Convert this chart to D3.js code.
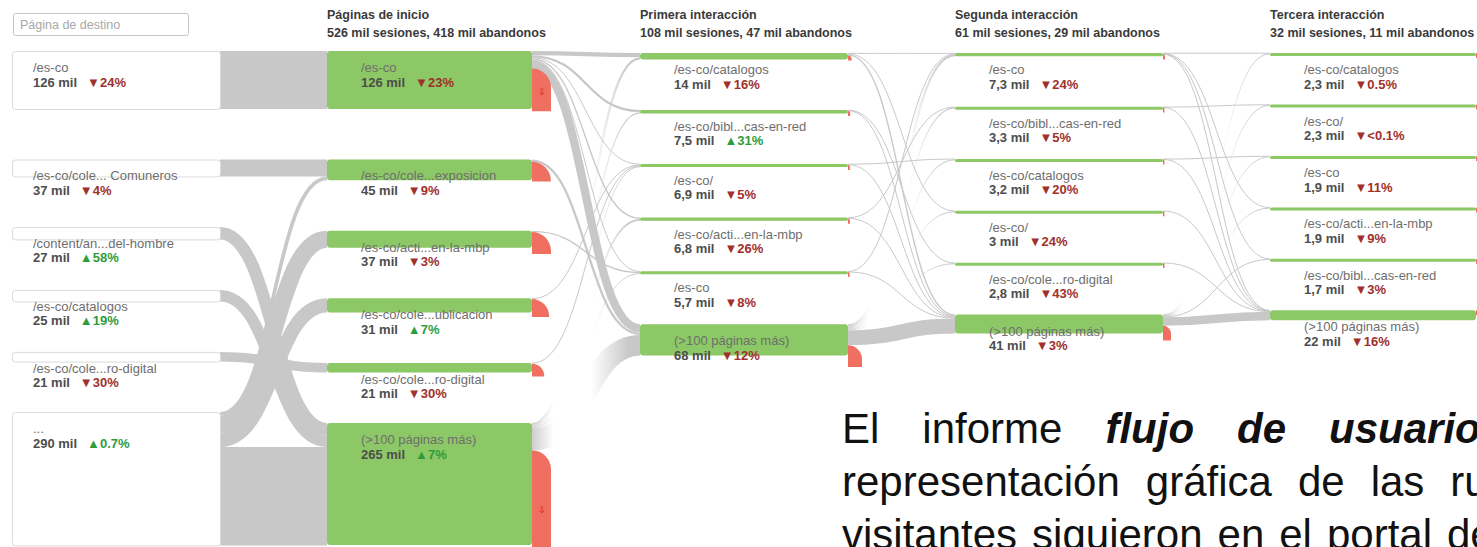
<!DOCTYPE html>
<html>
<head>
<meta charset="utf-8">
<script src="https://cdn.jsdelivr.net/npm/d3@7"></script>
<style>
  body { margin: 0; background: #fff; }
  svg { display: block; font-family: "Liberation Sans", Arial, sans-serif; }
</style>
</head>
<body>
<div id="flow"></div>
<script>
// header info per interaction column
var headers = ["Páginas de inicio", "Primera interacción", "Segunda interacción", "Tercera interacción"];
var sessions = [526, 108, 61, 32];
var abandons = [418, 47, 29, 11];

// landing pages (column 0)
var col0Names = ["/es-co", "/es-co/cole... Comuneros", "/content/an...del-hombre", "/es-co/catalogos", "/es-co/cole...ro-digital", "..."];
var col0Values = [126, 37, 27, 25, 21, 290];
var col0Change = ["▼24%", "▼4%", "▲58%", "▲19%", "▼30%", "▲0.7%"];

// starting pages (column 1)
var col1Names = ["/es-co", "/es-co/cole...exposicion", "/es-co/acti...en-la-mbp", "/es-co/cole...ublicacion", "/es-co/cole...ro-digital", "(>100 páginas más)"];
var col1Values = [126, 45, 37, 31, 21, 265];
var col1Change = ["▼23%", "▼9%", "▼3%", "▲7%", "▼30%", "▲7%"];
var col1Drops = [93, 43, 48, 39, 28, 220];

// first interaction
var col2Names = ["/es-co/catalogos", "/es-co/bibl...cas-en-red", "/es-co/", "/es-co/acti...en-la-mbp", "/es-co", "(>100 páginas más)"];
var col2Values = [14, 7.5, 6.9, 6.8, 5.7, 68];
var col2Change = ["▼16%", "▲31%", "▼5%", "▼26%", "▼8%", "▼12%"];
var col2Drops = [8.5, 5, 4.4, 4.3, 3.7, 47];

// second interaction
var col3Names = ["/es-co", "/es-co/bibl...cas-en-red", "/es-co/catalogos", "/es-co/", "/es-co/cole...ro-digital", "(>100 páginas más)"];
var col3Values = [7.3, 3.3, 3.2, 3, 2.8, 41];
var col3Change = ["▼24%", "▼5%", "▼20%", "▼24%", "▼43%", "▼3%"];
var col3Drops = [4.7, 1.8, 1.9, 2.2, 2, 32];

// third interaction
var col4Names = ["/es-co/catalogos", "/es-co/", "/es-co", "/es-co/acti...en-la-mbp", "/es-co/bibl...cas-en-red", "(>100 páginas más)"];
var col4Values = [2.3, 2.3, 1.9, 1.9, 1.7, 22];
var col4Change = ["▼0.5%", "▼<0.1%", "▼11%", "▼9%", "▼3%", "▼16%"];
var col4Drops = [0.5, 0.3, 0.3, 0.3, 0.3, 9];

// flows [source, target, thousand sessions]
var links01 = [[0, 0, 126], [1, 1, 37], [2, 5, 27], [3, 5, 25], [4, 4, 21],
               [5, 1, 8], [5, 2, 37], [5, 3, 31], [5, 5, 214]];
var links12 = [[0, 0, 9], [0, 1, 5], [0, 2, 1.5], [0, 3, 3], [0, 4, 1.5], [0, 5, 18],
               [1, 5, 5], [2, 4, 3], [3, 2, 2], [4, 2, 1.5],
               [5, 0, 5], [5, 1, 2.5], [5, 2, 1.9], [5, 3, 3.8], [5, 4, 1.2], [5, 5, 45]];
var links23 = [[0, 0, 1.5], [0, 3, 1], [0, 5, 3], [1, 4, 1], [1, 5, 1.5], [2, 2, 1], [2, 5, 1.5],
               [3, 1, 1], [3, 5, 1.5], [4, 0, 1], [4, 5, 1],
               [5, 0, 4.8], [5, 1, 2.3], [5, 2, 2.2], [5, 3, 2], [5, 4, 1.8], [5, 5, 32.5]];
var links34 = [[0, 0, 1], [0, 3, 0.6], [0, 4, 0.5], [0, 5, 1], [1, 1, 1], [1, 5, 0.5], [2, 2, 0.8], [2, 5, 0.5],
               [3, 5, 0.8], [4, 5, 0.8],
               [5, 0, 1.3], [5, 1, 1.3], [5, 2, 1.1], [5, 3, 1.3], [5, 4, 1.2], [5, 5, 18.4]];

// paragraph laid over the chart (*...* = bold italic)
var paragraph = ["El informe *flujo de usuario* es una",
                 "representación gráfica de las rutas que los",
                 "visitantes siguieron en el portal de la"];

// ---- layout ----
var width = 1477, height = 547;
var colX = [12, 327, 640, 955, 1270];
var nodeW = [208, 205, 208, 208, 206];
var colTop = [51, 51, 53, 53, 53];
var nodeGap = 50.5;
var dropMaxW = [0, 19, 14, 8, 8];
var green = "#8cc865", red = "#ef6f60", linkGray = "#c8c8c8";

var hScale = d3.scaleLinear().domain([0, 290]).range([0, 133.4]);
var es = d3.formatLocale({decimal: ",", thousands: ".", grouping: [3], currency: ["", "€"]});
function fmtValue(v) { return (v >= 10 ? d3.format("d")(v) : es.format(".1~f")(v)) + " mil"; }

var columns = [
  {names: col0Names, values: col0Values, changes: col0Change, drops: null},
  {names: col1Names, values: col1Values, changes: col1Change, drops: col1Drops},
  {names: col2Names, values: col2Values, changes: col2Change, drops: col2Drops},
  {names: col3Names, values: col3Values, changes: col3Change, drops: col3Drops},
  {names: col4Names, values: col4Values, changes: col4Change, drops: col4Drops}
];
var linkSets = [links01, links12, links23, links34];

columns.forEach(function(col, c) {
  var y = colTop[c];
  col.nodes = col.values.map(function(v, i) {
    var n = {c: c, i: i, name: col.names[i], value: v, change: col.changes[i],
             x: colX[c], w: nodeW[c], y: y, h: hScale(v), outOff: 0, inOff: 0};
    y += n.h + nodeGap;
    return n;
  });
});

var links = [];
linkSets.forEach(function(set, c) {
  set.forEach(function(l) {
    links.push({c: c, s: columns[c].nodes[l[0]], t: columns[c + 1].nodes[l[1]], v: l[2]});
  });
});
// stack flows inside each node, from the top
links.slice().sort(function(a, b) { return a.c - b.c || a.s.i - b.s.i || a.t.i - b.t.i; })
  .forEach(function(l) { var lh = hScale(l.v); l.sy = l.s.y + l.s.outOff + lh / 2; l.s.outOff += lh; });
links.slice().sort(function(a, b) { return a.c - b.c || a.t.i - b.t.i || a.s.i - b.s.i; })
  .forEach(function(l) { var lh = hScale(l.v); l.ty = l.t.y + l.t.inOff + lh / 2; l.t.inOff += lh; });

var svg = d3.select("#flow").append("svg")
  .attr("width", width)
  .attr("height", height);

var defs = svg.append("defs");
linkSets.forEach(function(set, c) {
  var gr = defs.append("linearGradient")
    .attr("id", "fade" + c)
    .attr("gradientUnits", "userSpaceOnUse")
    .attr("x1", colX[c] + nodeW[c]).attr("x2", colX[c + 1])
    .attr("y1", 0).attr("y2", 0);
  [[0, 0.9], [0.2, 0], [0.55, 0], [0.9, 1], [1, 1]].forEach(function(s) {
    gr.append("stop").attr("offset", s[0]).attr("stop-color", linkGray).attr("stop-opacity", s[1]);
  });
});

// search box
svg.append("rect")
  .attr("x", 13.5).attr("y", 13.5).attr("width", 175).attr("height", 22).attr("rx", 2)
  .attr("fill", "#fff").attr("stroke", "#c4c4c4");
svg.append("text")
  .attr("x", 20).attr("y", 28.5)
  .attr("font-size", 12.5).attr("fill", "#a8a8a8")
  .text("Página de destino");

// headers
headers.forEach(function(h, k) {
  var x = colX[k + 1];
  svg.append("text").attr("x", x).attr("y", 19)
    .attr("font-size", 12.5).attr("font-weight", "bold").attr("fill", "#3a3a3a").text(h);
  svg.append("text").attr("x", x).attr("y", 37)
    .attr("font-size", 12.5).attr("font-weight", "bold").attr("fill", "#3a3a3a")
    .text(sessions[k] + " mil sesiones, " + abandons[k] + " mil abandonos");
});

// flows
var linkGen = d3.linkHorizontal();
var isMore = function(n) { return n.name.indexOf("(>100") === 0; };
svg.append("g").selectAll("path")
  .data(links)
  .enter()
  .append("path")
  .attr("d", function(l) {
    return linkGen({source: [l.s.x + l.s.w, l.sy], target: [l.t.x, l.ty]});
  })
  .attr("fill", "none")
  .attr("stroke", function(l) {
    return isMore(l.s) && Math.abs(l.sy - l.ty) > 60 ? "url(#fade" + l.c + ")" : linkGray;
  })
  .attr("stroke-width", function(l) { return Math.max(1, hScale(l.v)); });

// nodes
var allNodes = [];
columns.forEach(function(col) { allNodes = allNodes.concat(col.nodes); });

svg.append("g").selectAll("rect")
  .data(allNodes)
  .enter()
  .append("rect")
  .attr("x", function(n) { return n.c === 0 ? n.x + 0.5 : n.x; })
  .attr("y", function(n) { return n.c === 0 ? n.y + 0.5 : n.y; })
  .attr("width", function(n) { return n.w; })
  .attr("height", function(n) { return Math.max(3, n.h); })
  .attr("rx", function(n) { return n.h > 6 ? 3 : 1.5; })
  .attr("fill", function(n) { return n.c === 0 ? "#fff" : green; })
  .attr("stroke", function(n) { return n.c === 0 ? "#dadada" : "none"; });

// drop-offs
var drops = [];
columns.forEach(function(col, c) {
  if (!col.drops) return;
  col.nodes.forEach(function(n, i) {
    var h = hScale(col.drops[i]);
    drops.push({x: n.x + n.w, y: n.y + n.outOff, h: Math.max(5, h),
                w: Math.max(1.5, Math.min(dropMaxW[c], h * 0.95))});
  });
});
svg.append("g").selectAll("path")
  .data(drops)
  .enter()
  .append("path")
  .attr("d", function(d) {
    var r = Math.min(d.w, d.h);
    return "M" + d.x + "," + d.y + "H" + (d.x + d.w - r) +
      "A" + r + "," + r + " 0 0 1 " + (d.x + d.w) + "," + (d.y + r) +
      "V" + (d.y + d.h) + "H" + d.x + "Z";
  })
  .attr("fill", red);
svg.append("g").selectAll("text")
  .data(drops.filter(function(d) { return d.h > 40; }))
  .enter()
  .append("text")
  .attr("x", function(d) { return d.x + d.w / 2; })
  .attr("y", function(d) { return d.y + d.h * 0.62; })
  .attr("text-anchor", "middle")
  .attr("font-size", 9).attr("fill", "#c62020")
  .text("⇩");

// labels
var labels = svg.append("g");
allNodes.forEach(function(n) {
  var lx = n.x + (n.c === 0 ? 21 : 34);
  labels.append("text")
    .attr("x", lx).attr("y", n.y + 21)
    .attr("font-size", 13).attr("fill", "#6e6e6e")
    .text(n.name);
  var t = labels.append("text")
    .attr("x", lx).attr("y", n.y + 35.5)
    .attr("font-size", 13).attr("font-weight", "bold").attr("fill", "#4d4d4d");
  t.append("tspan").text(fmtValue(n.value));
  t.append("tspan")
    .attr("dx", 10)
    .attr("fill", n.change.charAt(0) === "▲" ? "#2f9c3c" : "#a12f2b")
    .text(n.change);
});

// paragraph
var lineGap = [43, 26, 15];
var para = svg.append("g").attr("font-size", 42).attr("fill", "#111");
paragraph.forEach(function(line, li) {
  var x = 842, bold = false;
  line.split(" ").forEach(function(word) {
    var w = word;
    if (w.charAt(0) === "*") { bold = true; w = w.slice(1); }
    var endBold = w.charAt(w.length - 1) === "*";
    if (endBold) w = w.slice(0, -1);
    var t = para.append("text")
      .attr("x", x).attr("y", 443 + li * 53)
      .attr("font-weight", bold ? "bold" : "normal")
      .attr("font-style", bold ? "italic" : "normal")
      .text(w);
    x += t.node().getComputedTextLength() + lineGap[li];
    if (endBold) bold = false;
  });
});
</script>
</body>
</html>
